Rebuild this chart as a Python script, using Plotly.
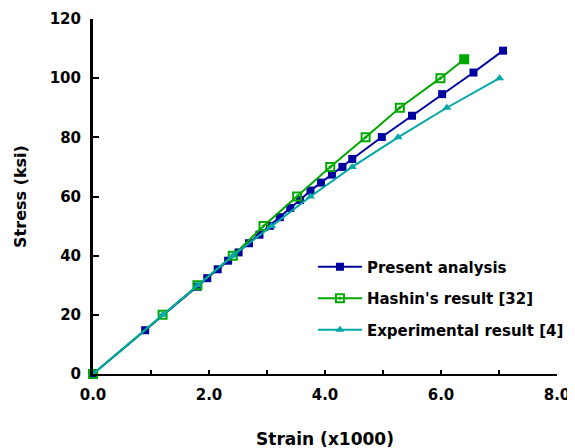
import plotly.graph_objects as go

# Data
present_strain = [0.0, 0.90, 1.80, 1.97, 2.15, 2.33, 2.51, 2.69, 2.87, 3.05, 3.22, 3.40,
                  3.57, 3.75, 3.93, 4.12, 4.30, 4.47, 4.98, 5.50, 6.02, 6.56, 7.07]
present_stress = [0.0, 14.8, 29.5, 32.4, 35.4, 38.3, 41.1, 44.2, 47.1, 50.1, 53.0, 56.1,
                  58.8, 62.0, 64.7, 67.4, 70.0, 72.7, 80.1, 87.3, 94.6, 101.9, 109.3]

hashin_strain = [0.0, 1.20, 1.80, 2.41, 2.94, 3.52, 4.09, 4.70, 5.29, 5.99, 6.40]
hashin_stress = [0.0, 20.0, 30.0, 40.0, 50.0, 60.0, 70.0, 80.0, 90.0, 100.0, 106.4]

exp_strain = [0.0, 1.20, 1.80, 2.41, 3.08, 3.75, 4.47, 5.26, 6.10, 7.01]
exp_stress = [0.0, 20.0, 30.0, 40.0, 50.0, 60.0, 70.0, 80.0, 90.0, 100.0]

x_tickvals = [0, 1, 2, 3, 4, 5, 6, 7, 8]
x_ticktext = ["0.0", "", "2.0", "", "4.0", "", "6.0", "", "8.0"]
y_tickvals = [0, 20, 40, 60, 80, 100, 120]

BLUE = "#0000a0"
GREEN = "#00a800"
CYAN = "#00a8a8"
FONT = "DejaVu Sans"

hashin_symbols = ["square-open-dot"] * (len(hashin_strain) - 1) + ["square"]

fig = go.Figure()
fig.add_trace(go.Scatter(
    x=present_strain, y=present_stress, mode="lines+markers",
    name="<b>Present analysis</b>", legendgroup="a",
    line=dict(color=BLUE, width=2),
    marker=dict(symbol="square", size=8, color=BLUE),
    cliponaxis=False,
))
fig.add_trace(go.Scatter(
    x=hashin_strain, y=hashin_stress, mode="lines+markers",
    name="<b>Hashin's result [32]</b>", legendgroup="b",
    line=dict(color=GREEN, width=2),
    marker=dict(symbol=hashin_symbols, size=8, color=GREEN, line=dict(width=2, color=GREEN)),
    cliponaxis=False,
))
fig.add_trace(go.Scatter(
    x=exp_strain, y=exp_stress, mode="lines+markers",
    name="<b>Experimental result [4]</b>", legendgroup="c",
    line=dict(color=CYAN, width=2),
    marker=dict(symbol="triangle-up", size=8, color=CYAN),
    cliponaxis=False,
))

# page body has an 8px margin, so margins are shifted to compensate
fig.update_layout(
    width=575, height=448,
    margin=dict(l=85, r=26, t=11, b=82),
    paper_bgcolor="white", plot_bgcolor="white",
    font=dict(family=FONT, size=14, color="black"),
    showlegend=True,
    legend=dict(
        x=0.474, y=0.348, xanchor="left", yanchor="top",
        bgcolor="rgba(0,0,0,0)", font=dict(size=15, family=FONT),
        traceorder="grouped", tracegroupgap=9, itemwidth=44,
    ),
    xaxis=dict(
        range=[0, 8], tickvals=x_tickvals, ticktext=x_ticktext,
        showgrid=False, zeroline=False, showline=True, automargin=False,
        linecolor="black", linewidth=1.5,
        ticks="inside", ticklen=4, tickwidth=2, tickcolor="black",
        ticklabelstandoff=6,
        tickfont=dict(size=15, family=FONT, weight="bold"),
        title=dict(text="Strain (x1000)", font=dict(size=17, family=FONT, weight="bold"), standoff=30),
    ),
    yaxis=dict(
        range=[0, 120], tickvals=y_tickvals,
        showgrid=False, zeroline=False, showline=True, automargin=False,
        linecolor="black", linewidth=3,
        ticks="inside", ticklen=6, tickwidth=2, tickcolor="black",
        ticklabelstandoff=6,
        tickfont=dict(size=15, family=FONT, weight="bold"),
        title=dict(text="Stress (ksi)", font=dict(size=16, family=FONT, weight="bold"), standoff=20),
    ),
)

fig.write_html("out.html")
